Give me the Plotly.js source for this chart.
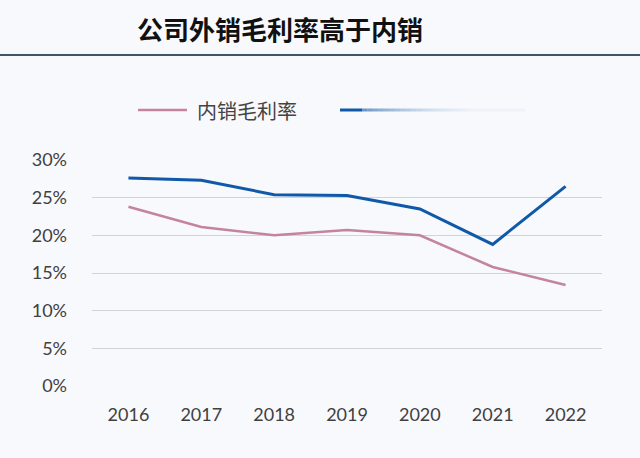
<!DOCTYPE html>
<html>
<head>
<meta charset="utf-8">
<script src="https://cdn.plot.ly/plotly-3.0.1.min.js"></script>
<style>html,body{margin:0;padding:0;background:#f8f9fc;}#chart{width:640px;height:458px;}</style>
</head>
<body>
<div id="chart"></div>
<script>
const years = ['2016','2017','2018','2019','2020','2021','2022'];
const domesticMargin = [0.238, 0.211, 0.200, 0.207, 0.200, 0.158, 0.134];
const exportMargin = [0.276, 0.273, 0.254, 0.253, 0.235, 0.188, 0.265];
const yTicks = [0, 0.05, 0.10, 0.15, 0.20, 0.25, 0.30];
const yTickText = ['0%','5%','10%','15%','20%','25%','30%'];
const titleText = '公司外销毛利率高于内销';
const domesticName = '内销毛利率';
const exportName = '外销毛利率';

const W = 640, H = 458, L = 92, R = 38, T = 160, B = 72;
const pw = W - L - R, ph = H - T - B;
const px = x => (x - L) / pw;
const py = y => (H - B - y) / ph;

const traces = [
  {x: years, y: domesticMargin, name: domesticName, type: 'scatter', mode: 'lines',
   line: {color: '#c4849f', width: 2.5}, showlegend: false},
  {x: years, y: exportMargin, name: exportName, type: 'scatter', mode: 'lines',
   line: {color: '#1059a8', width: 3}, showlegend: false}
];

const shapes = [
  {type: 'line', xref: 'paper', yref: 'paper', x0: px(0), x1: px(640), y0: py(55), y1: py(55),
   line: {color: '#3d5566', width: 2}},
  {type: 'line', xref: 'paper', yref: 'paper', x0: px(138), x1: px(187), y0: py(110), y1: py(110),
   line: {color: '#c4849f', width: 2.5}}
];
// fading blue legend stroke
const fadeStart = 340, solidEnd = 362, fadeEnd = 525, steps = 30;
shapes.push({type: 'line', xref: 'paper', yref: 'paper', x0: px(fadeStart), x1: px(solidEnd),
  y0: py(110), y1: py(110), line: {color: '#1059a8', width: 3}});
for (let i = 0; i < steps; i++) {
  const a = (fadeEnd - solidEnd) / steps;
  shapes.push({type: 'line', xref: 'paper', yref: 'paper',
    x0: px(solidEnd + i * a), x1: px(solidEnd + (i + 1) * a), y0: py(110), y1: py(110),
    opacity: Math.max(0.03, 0.6 * Math.pow(1 - i / steps, 2.5)),
    line: {color: '#1059a8', width: 3}});
}

const tickFont = {family: 'Lato, Open Sans, sans-serif', size: 18, color: '#404040'};
const layout = {
  width: W, height: H,
  paper_bgcolor: '#f8f9fc', plot_bgcolor: '#f8f9fc',
  margin: {l: L, r: R, t: T, b: B},
  showlegend: false,
  title: {text: '<b>' + titleText + '</b>', xref: 'container', yref: 'container',
    x: 280 / W, xanchor: 'center', y: 1 - 31 / H, yanchor: 'middle',
    font: {family: 'Noto Sans CJK SC', size: 26, color: '#111111', weight: 900}},
  xaxis: {type: 'category', range: [-0.5, 6.5], showgrid: false, zeroline: false,
    showline: false, ticks: '', ticklen: 0, ticklabelstandoff: 16,
    tickfont: tickFont},
  yaxis: {range: [0, 0.30], tickvals: yTicks, ticktext: yTickText,
    showgrid: true, gridcolor: '#d3d3d3', gridwidth: 1, zeroline: false, showline: false,
    ticks: '', ticklabelstandoff: 24,
    tickfont: tickFont},
  shapes: shapes,
  annotations: [
    {text: domesticName, xref: 'paper', yref: 'paper', x: px(195), y: py(110),
     xanchor: 'left', yanchor: 'middle', showarrow: false,
     font: {family: 'Noto Sans CJK SC', size: 20, color: '#444444'}}
  ]
};

Plotly.newPlot('chart', traces, layout, {displayModeBar: false, staticPlot: true});
</script>
</body>
</html>
